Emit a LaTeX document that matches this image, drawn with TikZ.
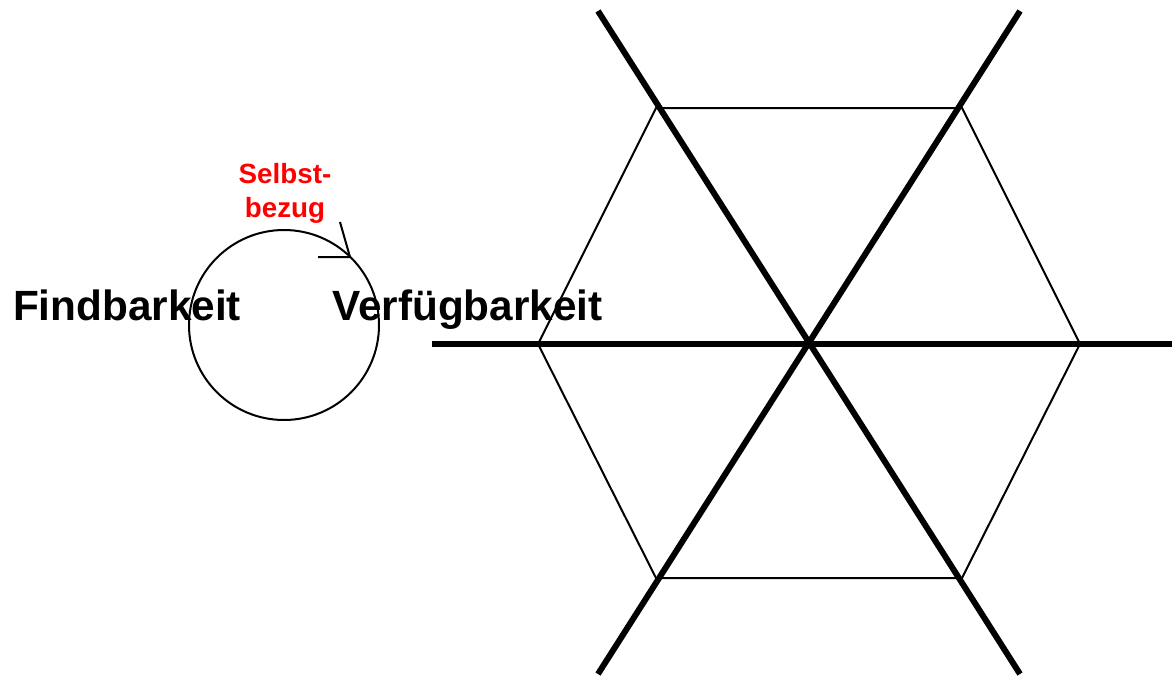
\documentclass[tikz,border=0pt]{standalone}
\usepackage{fontspec}
\setmainfont{Liberation Sans}
\usetikzlibrary{positioning}
\definecolor{loopred}{RGB}{255,0,0}

\begin{document}
\begin{tikzpicture}[
  x=1pt,y=-1pt,
  thin line/.style={draw=black,line width=2pt},
  axis/.style={draw=black,line width=6pt},
  label/.style={font=\fontsize{42.3}{46}\selectfont\bfseries,inner sep=0pt},
  note/.style={font=\fontsize{27.8}{34}\selectfont\bfseries,text=loopred,align=center,inner sep=0pt}
]
\useasboundingbox (0,0) rectangle (1172,677);
% loop with its labels
\node[draw,circle,line width=2pt,minimum size=190pt,inner sep=0pt] (loop) at (284,325) {};
\coordinate (tip) at (350,257);
\coordinate (wingA) at (340,222);
\coordinate (wingB) at (318,257);
\draw[line width=2pt] (wingA) -- (tip) -- (wingB);
\node[label,anchor=base] (find) at (127,320) {Findbarkeit};
\node[label,anchor=base] (avail) at (467.5,320) {Verfügbarkeit};
\node[note] (self) at (285,193) {Selbst-\\bezug};
% hexagon
\coordinate (hc) at (809,344);
\coordinate (h1) at (1080,344);
\coordinate (h2) at (962,108);
\coordinate (h3) at (656,108);
\coordinate (h4) at (538,344);
\coordinate (h5) at (656,578);
\coordinate (h6) at (962,578);
\draw[thin line] (h1) -- (h2) -- (h3) -- (h4) -- (h5) -- (h6) -- cycle;
% axes through the centre
\coordinate (aw) at (432,344);
\coordinate (ae) at (1172,344);
\coordinate (anw) at (598,11);
\coordinate (ase) at (1020,674);
\coordinate (ane) at (1020,11);
\coordinate (asw) at (598,674);
\draw[axis] (aw) -- (ae);
\draw[axis] (anw) -- (ase);
\draw[axis] (ane) -- (asw);
\end{tikzpicture}
\end{document}
